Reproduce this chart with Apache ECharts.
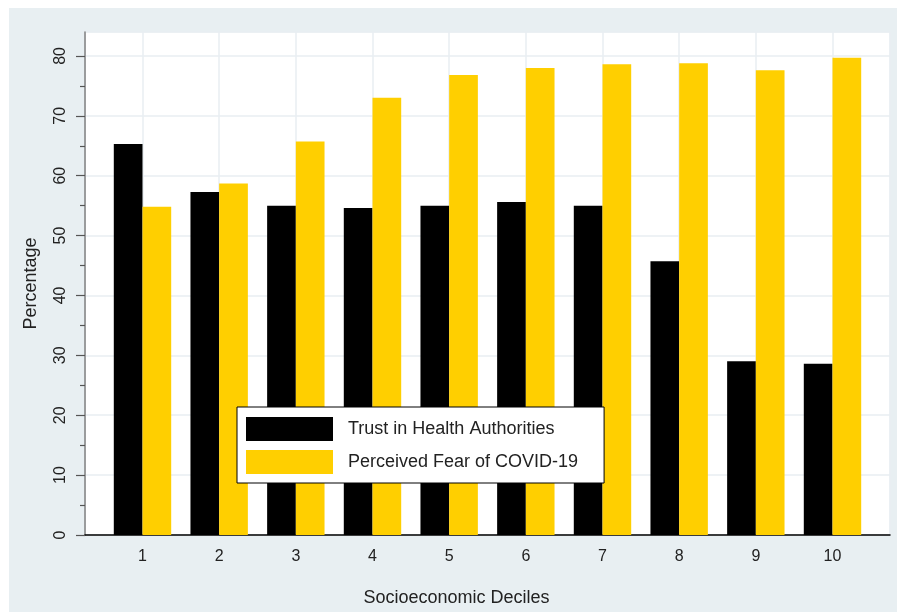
<!DOCTYPE html>
<html>
<head>
<meta charset="utf-8">
<script src="https://cdn.jsdelivr.net/npm/echarts@6/dist/echarts.min.js"></script>
<style>
html,body{margin:0;padding:0;background:#ffffff;}
#chart{width:899px;height:612px;}
</style>
</head>
<body>
<div id="chart"></div>
<script>
const deciles = [1, 2, 3, 4, 5, 6, 7, 8, 9, 10];
const trustValues = [65.3, 57.3, 55.0, 54.6, 55.0, 55.6, 55.0, 45.7, 29.0, 28.6];
const fearValues = [54.8, 58.7, 65.7, 73.0, 76.8, 78.0, 78.6, 78.8, 77.6, 79.7];
const yMajorTicks = [0, 10, 20, 30, 40, 50, 60, 70, 80];
const yMinorTicks = [5, 15, 25, 35, 45, 55, 65, 75];
const seriesNames = ['Trust in Health Authorities', 'Perceived Fear of COVID-19'];

const chart = echarts.init(document.getElementById('chart'), null, {renderer: 'canvas'});
const font = 'Arial, "Liberation Sans", sans-serif';
const option = {
  animation: false,
  backgroundColor: '#ffffff',
  graphic: [{
    type: 'rect', z: -100, silent: true,
    shape: {x: 9, y: 8, width: 888, height: 604},
    style: {fill: '#e8eff2'}
  }],
  grid: {
    left: 85, right: 9, top: 32, bottom: 76,
    show: true, backgroundColor: '#ffffff', borderColor: '#e9eef2', borderWidth: 1
  },
  legend: {
    orient: 'vertical', left: 237, top: 407,
    itemWidth: 87, itemHeight: 24, itemGap: 9,
    icon: 'rect',
    padding: [10, 26, 9, 9],
    backgroundColor: '#ffffff', borderColor: '#000000', borderWidth: 1,
    textStyle: {fontFamily: font, fontSize: 18, color: '#222222', padding: [0, 0, 0, 10]},
    data: seriesNames
  },
  xAxis: {
    type: 'value', min: 0.25, max: 10.75, splitNumber: 10,
    name: 'Socioeconomic Deciles', nameLocation: 'middle', nameGap: 54,
    nameTextStyle: {fontFamily: font, fontSize: 18, color: '#222222', padding: [0, 62, 0, 0]},
    axisLine: {show: true, lineStyle: {color: '#000000', width: 1.5}},
    axisTick: {show: false},
    axisLabel: {
      fontFamily: font, fontSize: 16, color: '#222222', margin: 14,
      showMinLabel: false, showMaxLabel: false,
      formatter: function (v) { return deciles.indexOf(v) >= 0 ? String(v) : ''; }
    },
    splitLine: {show: true, lineStyle: {color: '#e9eef2', width: 1.5}}
  },
  yAxis: [{
    type: 'value', min: 0, max: 84,
    name: 'Percentage', nameLocation: 'middle', nameGap: 45, nameRotate: 90,
    nameTextStyle: {fontFamily: font, fontSize: 18, color: '#222222'},
    axisLine: {show: true, lineStyle: {color: '#808080', width: 1.5}},
    axisTick: {show: true, length: 9, customValues: yMajorTicks, lineStyle: {color: '#555555', width: 1.2}},
    axisLabel: {customValues: yMajorTicks, rotate: 90, fontFamily: font, fontSize: 16, color: '#222222', margin: 16},
    splitLine: {show: false}
  }, {
    type: 'value', min: 0, max: 84, position: 'left',
    axisLine: {show: false},
    axisTick: {show: true, length: 5, customValues: yMinorTicks, lineStyle: {color: '#555555', width: 1.2}},
    axisLabel: {show: false},
    splitLine: {show: false}
  }, {
    type: 'value', min: 0, max: 84, show: true, position: 'left',
    axisLine: {show: false}, axisTick: {show: false}, axisLabel: {show: false},
    splitLine: {show: true, lineStyle: {color: '#e9eef2', width: 1.5}},
    interval: 10
  }],
  series: [{
    name: seriesNames[0], type: 'bar', barWidth: 28.7, barGap: '0%',
    itemStyle: {color: '#000000'},
    data: deciles.map((d, i) => [d, trustValues[i]])
  }, {
    name: seriesNames[1], type: 'bar', barWidth: 28.7, barGap: '0%',
    itemStyle: {color: '#ffcf00'},
    data: deciles.map((d, i) => [d, fearValues[i]])
  }]
};
chart.setOption(option);
</script>
</body>
</html>
